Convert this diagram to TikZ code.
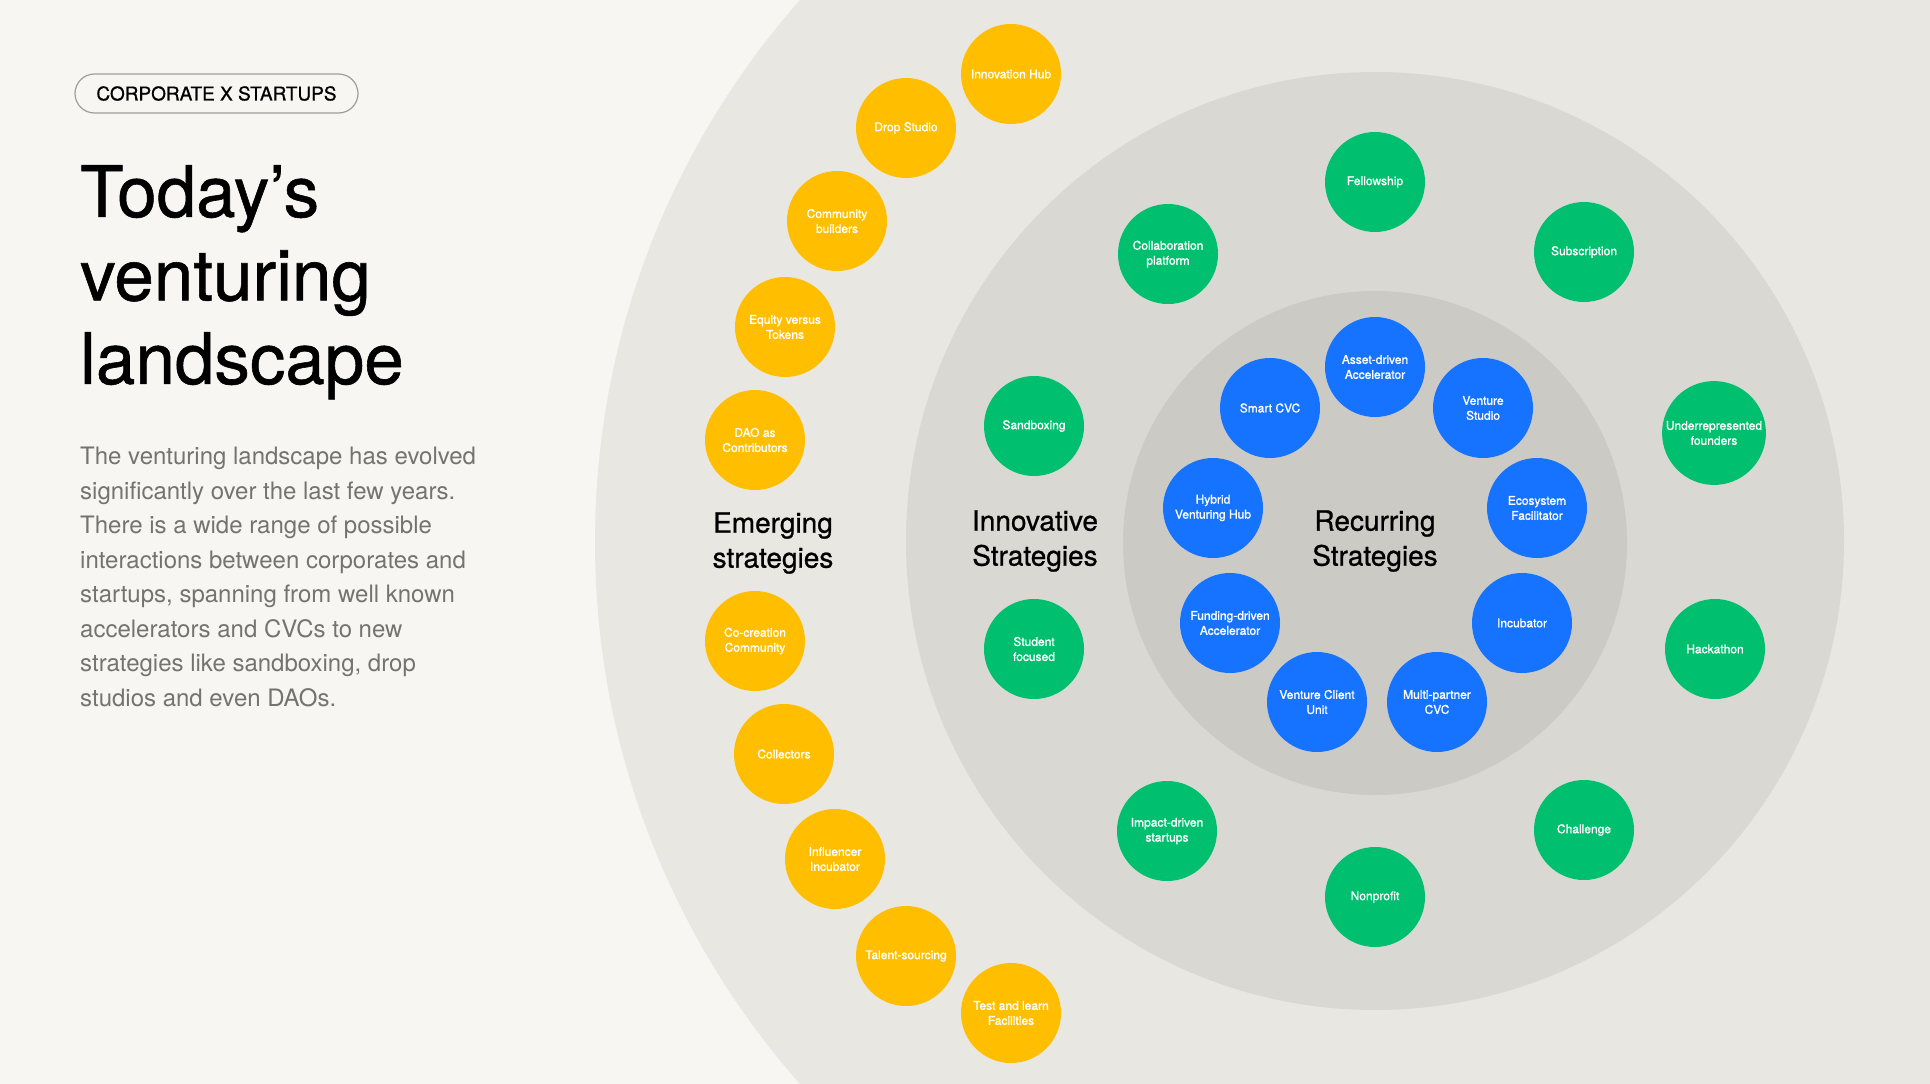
\documentclass[tikz,border=0pt]{standalone}
\usepackage{fontspec}
\setmainfont{TeX Gyre Heros}
\newfontfamily\medfont[FakeBold=1.2]{TeX Gyre Heros}
\newfontfamily\titlefont[FakeBold=0.8]{TeX Gyre Heros}
\usepackage{tikz}
\usetikzlibrary{positioning}
\definecolor{paper}{HTML}{F7F6F2}
\definecolor{ringout}{HTML}{E8E7E1}
\definecolor{ringmid}{HTML}{D9D8D2}
\definecolor{ringin}{HTML}{CBCAC4}
\definecolor{emerging}{HTML}{FFBF00}
\definecolor{innovative}{HTML}{00BF6F}
\definecolor{recurring}{HTML}{1673FF}
\definecolor{bodygray}{HTML}{75736E}
\definecolor{pillline}{HTML}{A09E99}

\begin{document}
\begin{tikzpicture}[x=1pt, y=-1pt,
  bub/.style={circle, minimum size=100pt, inner sep=2pt, align=center,
    text=white, font=\medfont\fontsize{12}{15}\selectfont},
  yb/.style={bub, fill=emerging},
  gb/.style={bub, fill=innovative},
  bb/.style={bub, fill=recurring},
  ringlbl/.style={align=center, inner sep=0pt, font=\titlefont\fontsize{28}{35}\selectfont},
  pill/.style={draw=pillline, line width=1.2pt, rounded corners=19.5pt,
    minimum width=283pt, minimum height=39pt, font=\titlefont\fontsize{19}{19}\selectfont}
]
\fill[paper] (0,0) rectangle (1930,1084);
\begin{scope}
  \clip (0,0) rectangle (1930,1084);
  \fill[ringout] (1414,542) circle (819);
  \fill[ringmid] (1375,541) circle (469);
  \fill[ringin] (1375,543) circle (252);
\end{scope}
\useasboundingbox (0,0) rectangle (1930,1084);

% left column
\node[pill] (tag) at (216.5,93.5) {CORPORATE X STARTUPS};
\node[anchor=north west, inner sep=0pt, align=left,
  font=\titlefont\fontsize{71}{83.5}\selectfont] (title) at (80,165) {Today’s\\venturing\\landscape};
\node[anchor=north west, inner sep=0pt, align=left, text=bodygray,
  font=\fontsize{24}{34.5}\selectfont] (blurb) at (80,447)
  {The venturing landscape has evolved\\significantly over the last few years.\\There is a wide range of possible\\interactions between corporates and\\startups, spanning from well known\\accelerators and CVCs to new\\strategies like sandboxing, drop\\studios and even DAOs.};

% ring labels
\node[ringlbl] (emlbl) at (773,543) {Emerging\\strategies};
\node[ringlbl] (inlbl) at (1035,541) {Innovative\\Strategies};
\node[ringlbl] (relbl) at (1375,541) {Recurring\\Strategies};

% emerging
\node[yb] (hub) at (1011,74) {Innovation Hub};
\node[yb] (drop) at (906,128) {Drop Studio};
\node[yb] (comm) at (837,221) {Community\\builders};
\node[yb] (equity) at (785,327) {Equity versus\\Tokens};
\node[yb] (dao) at (755,440) {DAO as\\Contributors};
\node[yb] (cocreate) at (755,641) {Co-creation\\Community};
\node[yb] (collect) at (784,754) {Collectors};
\node[yb] (influ) at (835,859) {Influencer\\Incubator};
\node[yb] (talent) at (906,956) {Talent-sourcing};
\node[yb] (testlearn) at (1011,1013) {Test and learn\\Facilities};

% innovative
\node[gb] (fellow) at (1375,182) {Fellowship};
\node[gb] (collab) at (1168,254) {Collaboration\\platform};
\node[gb] (subs) at (1584,252) {Subscription};
\node[gb] (sandbox) at (1034,426) {Sandboxing};
\node[gb] (under) at (1714,433) {Underrepresented\\founders};
\node[gb] (student) at (1034,649) {Student\\focused};
\node[gb] (hack) at (1715,649) {Hackathon};
\node[gb] (impact) at (1167,831) {Impact-driven\\startups};
\node[gb] (challenge) at (1584,830) {Challenge};
\node[gb] (nonprofit) at (1375,897) {Nonprofit};

% recurring
\node[bb] (asset) at (1375,367) {Asset-driven\\Accelerator};
\node[bb] (smart) at (1270,408) {Smart CVC};
\node[bb] (vstudio) at (1483,408) {Venture\\Studio};
\node[bb] (hybrid) at (1213,508) {Hybrid\\Venturing Hub};
\node[bb] (eco) at (1537,508) {Ecosystem\\Facilitator};
\node[bb] (funding) at (1230,623) {Funding-driven\\Accelerator};
\node[bb] (incub) at (1522,623) {Incubator};
\node[bb] (vcu) at (1317,702) {Venture Client\\Unit};
\node[bb] (multi) at (1437,702) {Multi-partner\\CVC};
\end{tikzpicture}
\end{document}
